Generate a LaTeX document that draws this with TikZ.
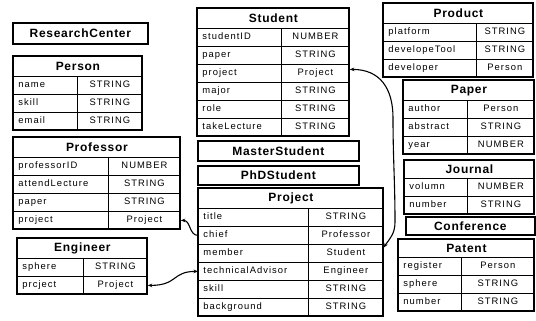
\documentclass[tikz,border=0pt]{standalone}
\usepackage{fontspec}
\setmainfont{Liberation Sans}
\newfontfamily\rowfont{Liberation Sans}[LetterSpace=11]
\newfontfamily\headfont{Liberation Sans}[LetterSpace=6]
\usetikzlibrary{arrows.meta}

\tikzset{
  cellline/.style={draw, line width=0.8bp},
  headcell/.style={cellline, inner sep=0pt,
    font=\headfont\bfseries\fontsize{12bp}{14bp}\selectfont},
  keycell/.style={cellline, anchor=north west, inner xsep=5bp, inner ysep=0pt,
    minimum height=18bp, text height=7bp, text depth=2bp, align=left,
    font=\rowfont\fontsize{9.4bp}{11bp}\selectfont},
  valcell/.style={keycell, align=center},
  frame/.style={line width=1.7bp},
  tip/.tip={Stealth[length=4.5bp,width=3.6bp]},
  linkone/.style={line width=1.1bp, tip-},
  linkboth/.style={line width=1.1bp, tip-tip},
}

% #1 name, #2 x, #3 y, #4 width, #5 key column width, #6 title height,
% #7 title, #8 number of rows, #9 rows as key/type pairs
\newcommand\classbox[9]{%
  \node[headcell, anchor=north west, minimum width=#4bp, minimum height=#6bp]
    (#1) at (#2,#3) {#7};
  \pgfmathsetmacro\kw{#5-10}%
  \pgfmathsetmacro\vw{#4-#5-10}%
  \foreach \k/\v [count=\i] in {#9} {
    \node[keycell, text width=\kw bp] (#1-\i) at (#2,{#3+#6+18*(\i-1)}) {\k};
    \node[valcell, text width=\vw bp] (#1-\i-v) at ({#2+#5},{#3+#6+18*(\i-1)}) {\v};
  }
  \draw[frame] (#2,#3) rectangle ({#2+#4},{#3+#6+18*#8});
}

% #1 name, #2 x, #3 y, #4 width, #5 height, #6 text
\newcommand\namebox[6]{%
  \node[headcell, frame, anchor=north west, minimum width=#4bp, minimum height=#5bp]
    (#1) at (#2,#3) {#6};
}

\begin{document}
\begin{tikzpicture}[x=1bp, y=-1bp]
  \fill[white] (0,0) rectangle (536,320);
  \useasboundingbox (0,0) rectangle (536,320);

  \namebox{rc}{12}{22}{135}{21}{ResearchCenter}
  \classbox{person}{13}{56}{129}{64}{20}{Person}{3}
    {name/STRING, skill/STRING, email/STRING}
  \classbox{prof}{13}{137}{167}{95}{20}{Professor}{4}
    {professorID/NUMBER, attendLecture/STRING, paper/STRING, project/Project}
  \classbox{eng}{17}{238}{130}{66}{20}{Engineer}{2}
    {sphere/STRING, prcject/Project}

  \classbox{stud}{197}{8}{152}{84}{20}{Student}{6}
    {studentID/NUMBER, paper/STRING, project/Project, major/STRING,
     role/STRING, takeLecture/STRING}
  \namebox{master}{197}{140}{161}{20}{MasterStudent}
  \namebox{phd}{197}{165}{161}{19}{PhDStudent}
  \classbox{proj}{198}{188}{185}{110}{20}{Project}{6}
    {title/STRING, chief/Professor, member/Student,
     technicalAdvisor/Engineer, skill/STRING, background/STRING}

  \classbox{prod}{383}{3}{150}{93}{20}{Product}{3}
    {platform/STRING, developeTool/STRING, developer/Person}
  \classbox{paper}{403}{80}{131}{64}{20}{Paper}{3}
    {author/Person, abstract/STRING, year/NUMBER}
  \classbox{jour}{404}{160}{130}{63}{18}{Journal}{2}
    {volumn/NUMBER, number/STRING}
  \namebox{conf}{405}{216}{129}{18}{Conference}
  \classbox{pat}{398}{239}{136}{63}{18}{Patent}{3}
    {register/Person, sphere/STRING, number/STRING}

  % references between classes
  \draw[linkone] (prof-4-v.east) .. controls +(10,0) and +(-9,0) .. (proj-2.west);
  \draw[linkboth] (eng-2-v.east) .. controls +(30,0) and +(-26,0) .. (proj-4.west);
  \coordinate (bendtop) at (393,118);
  \coordinate (bendlow) at (395,222);
  \draw[linkboth] ([yshift=4bp]stud-3-v.east)
    .. controls +(30,0) and +(0,-30) .. (bendtop)
    .. controls +(0,40) and +(0,-40) .. (bendlow)
    .. controls +(0,12) and +(6,-9) .. ([yshift=6bp]proj-3-v.east);
\end{tikzpicture}
\end{document}
